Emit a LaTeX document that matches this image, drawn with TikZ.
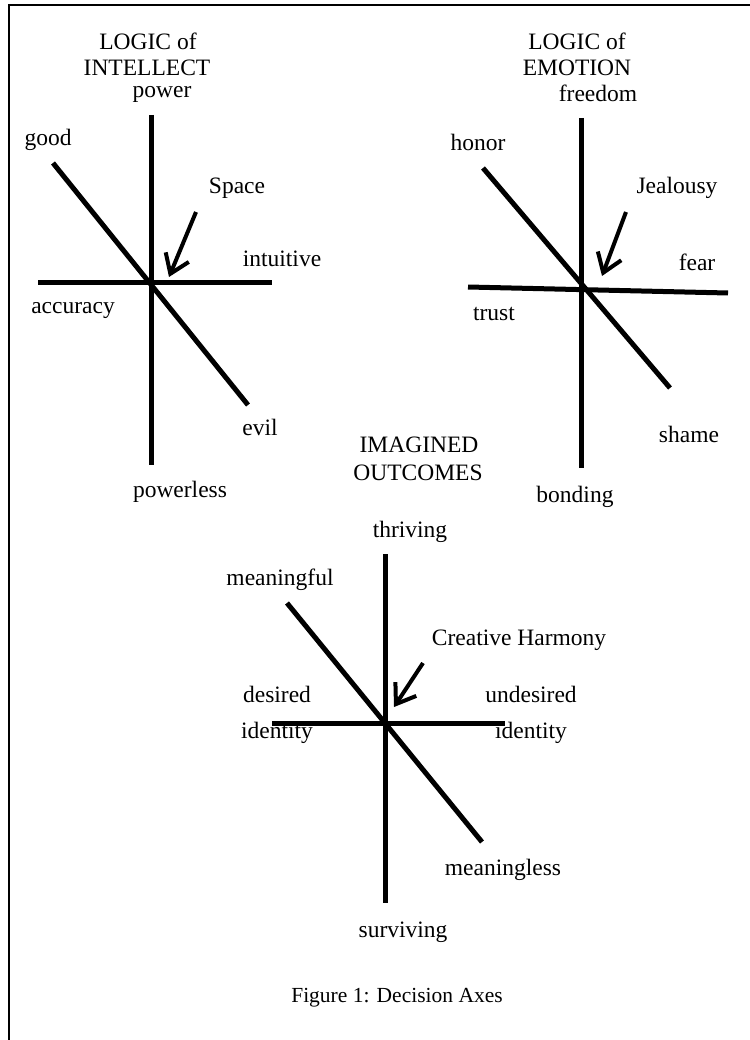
\documentclass[tikz,border=0pt]{standalone}
\usepackage{fontspec}
\setmainfont{Liberation Serif}
\usetikzlibrary{arrows.meta}
\begin{document}
\begin{tikzpicture}[x=1pt,y=-1pt,
  lbl/.style={anchor=base,inner sep=0pt,font=\fontsize{23.5}{27}\selectfont},
  captext/.style={anchor=base,inner sep=0pt,font=\fontsize{21.5}{25}\selectfont},
  axis/.style={line width=5pt},
  pointer/.style={line width=4pt,-{Straight Barb[length=18pt,width=25pt]}},
  frameline/.style={line width=2pt,line join=miter}]
\useasboundingbox (0,0) rectangle (749,1040);
% frame
\coordinate (fbl) at (9,1050);
\coordinate (ftl) at (9,5);
\coordinate (ftr) at (760,5);
\draw[frameline] (fbl) -- (ftl) -- (ftr);

% ---------- Diagram 1: LOGIC of INTELLECT ----------
\node[lbl] (t1a) at (148,50) {LOGIC of};
\node[lbl] (t1b) at (147,76) {INTELLECT};
\node[lbl] (power) at (162,98) {power};
\node[lbl] (good) at (48,146) {good};
\node[lbl] (space) at (237,194) {Space};
\node[lbl] (intuitive) at (282,267) {intuitive};
\node[lbl] (accuracy) at (73,313) {accuracy};
\node[lbl] (evil) at (260,435) {evil};
\node[lbl] (powerless) at (180,497) {powerless};
\coordinate (v1a) at (151,115);
\coordinate (v1b) at (151,465);
\coordinate (h1a) at (38,283);
\coordinate (h1b) at (272,283);
\coordinate (d1a) at (53,163);
\coordinate (d1b) at (248,405);
\coordinate (a1s) at (196,212);
\coordinate (a1t) at (169,277);
\draw[axis] (v1a) -- (v1b);
\draw[axis] (h1a) -- (h1b);
\draw[axis] (d1a) -- (d1b);
\draw[pointer] (a1s) -- (a1t);

% ---------- Diagram 2: LOGIC of EMOTION ----------
\node[lbl] (t2a) at (577,50) {LOGIC of};
\node[lbl] (t2b) at (577,76) {EMOTION};
\node[lbl] (freedom) at (598,102) {freedom};
\node[lbl] (honor) at (478,151) {honor};
\node[lbl] (jealousy) at (677,194) {Jealousy};
\node[lbl] (fear) at (697,271) {fear};
\node[lbl] (trust) at (494,320) {trust};
\node[lbl] (shame) at (689,442) {shame};
\node[lbl] (bonding) at (575,502) {bonding};
\coordinate (v2a) at (581,118);
\coordinate (v2b) at (581,468);
\coordinate (h2a) at (468,287);
\coordinate (h2b) at (728,293);
\coordinate (d2a) at (483,168);
\coordinate (d2b) at (670,388);
\coordinate (a2s) at (626,212);
\coordinate (a2t) at (602,276);
\draw[axis] (v2a) -- (v2b);
\draw[axis] (h2a) -- (h2b);
\draw[axis] (d2a) -- (d2b);
\draw[pointer] (a2s) -- (a2t);

% ---------- Diagram 3: IMAGINED OUTCOMES ----------
\node[lbl] (t3a) at (419,452) {IMAGINED};
\node[lbl] (t3b) at (418,480) {OUTCOMES};
\node[lbl] (thriving) at (410,537) {thriving};
\node[lbl] (meaningful) at (280,585) {meaningful};
\node[lbl] (harmony) at (519,645) {Creative Harmony};
\node[lbl] (desired) at (277,702) {desired};
\node[lbl] (idl) at (277,738) {identity};
\node[lbl] (undesired) at (531,702) {undesired};
\node[lbl] (idr) at (531,738) {identity};
\node[lbl] (meaningless) at (503,875) {meaningless};
\node[lbl] (surviving) at (403,937) {surviving};
\coordinate (v3a) at (385,554);
\coordinate (v3b) at (385,903);
\coordinate (h3a) at (272,723);
\coordinate (h3b) at (505,723);
\coordinate (d3a) at (287,603);
\coordinate (d3b) at (482,842);
\coordinate (a3s) at (423,663);
\coordinate (a3t) at (394,707);
\draw[axis] (v3a) -- (v3b);
\draw[axis] (h3a) -- (h3b);
\draw[axis] (d3a) -- (d3b);
\draw[pointer] (a3s) -- (a3t);

% caption
\node[captext] (caption) at (397,1002) {Figure 1: Decision Axes};
\end{tikzpicture}
\end{document}
